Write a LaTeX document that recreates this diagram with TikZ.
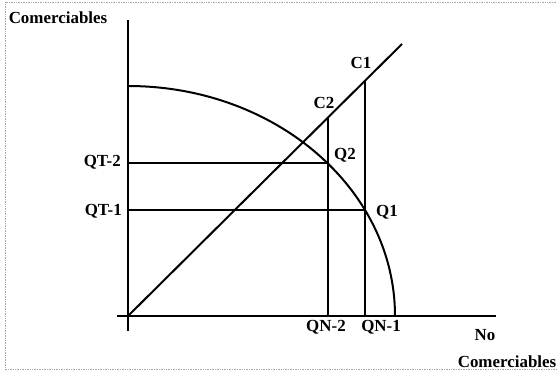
\documentclass[tikz,border=0pt]{standalone}
\usepackage{fontspec}
\setmainfont{Liberation Serif}
\begin{document}
\begin{tikzpicture}[x=1bp,y=-1bp,
  axisline/.style={line width=2.4bp},
  curveline/.style={line width=2.0bp},
  frameline/.style={gray!70, densely dotted, line width=0.7bp},
  lbl/.style={font=\fontsize{17}{19}\selectfont\bfseries, inner sep=0pt}]
\useasboundingbox (0,0) rectangle (557,372);
% frame
\draw[frameline] (556,2) -- (5,2) -- (5,369) -- (556,369);
% coordinates
\coordinate (O) at (128,316);
\coordinate (ytop) at (128,20);
\coordinate (ybot) at (128,331);
\coordinate (xleft) at (117,316);
\coordinate (xright) at (496,316);
\coordinate (dend) at (402,44);
\coordinate (C2) at (328,117.5);
\coordinate (C1) at (365,80.7);
\coordinate (Q2) at (328,163);
\coordinate (Q1) at (365,210);
\coordinate (QN2) at (328,316);
\coordinate (QN1) at (365,316);
\coordinate (QT2) at (128,163);
\coordinate (QT1) at (128,210);
% axes
\draw[axisline] (ybot) -- (ytop);
\draw[axisline] (xleft) -- (xright);
% diagonal
\draw[curveline] (O) -- (dend);
% frontier
\draw[curveline] (O) ++(0,-230) arc[start angle=-90, end angle=0, x radius=267, y radius=230];
% guide lines
\draw[curveline] (QT2) -- (Q2);
\draw[curveline] (QT1) -- (Q1);
\draw[curveline] (QN2) -- (C2);
\draw[curveline] (QN1) -- (C1);
% labels
\node[lbl] (lY) at (58,18) {Comerciables};
\node[lbl, anchor=east] (lQT2) at (121,162) {QT-2};
\node[lbl, anchor=east] (lQT1) at (122,211) {QT-1};
\node[lbl] (lC1) at (361,63) {C1};
\node[lbl] (lC2) at (324,103) {C2};
\node[lbl] (lQ2) at (345,155) {Q2};
\node[lbl] (lQ1) at (387,212) {Q1};
\node[lbl] (lQN2) at (326,327) {QN-2};
\node[lbl] (lQN1) at (381,327) {QN-1};
\node[lbl] (lNo) at (485,335) {No};
\node[lbl] (lX) at (507,362) {Comerciables};
\end{tikzpicture}
\end{document}
